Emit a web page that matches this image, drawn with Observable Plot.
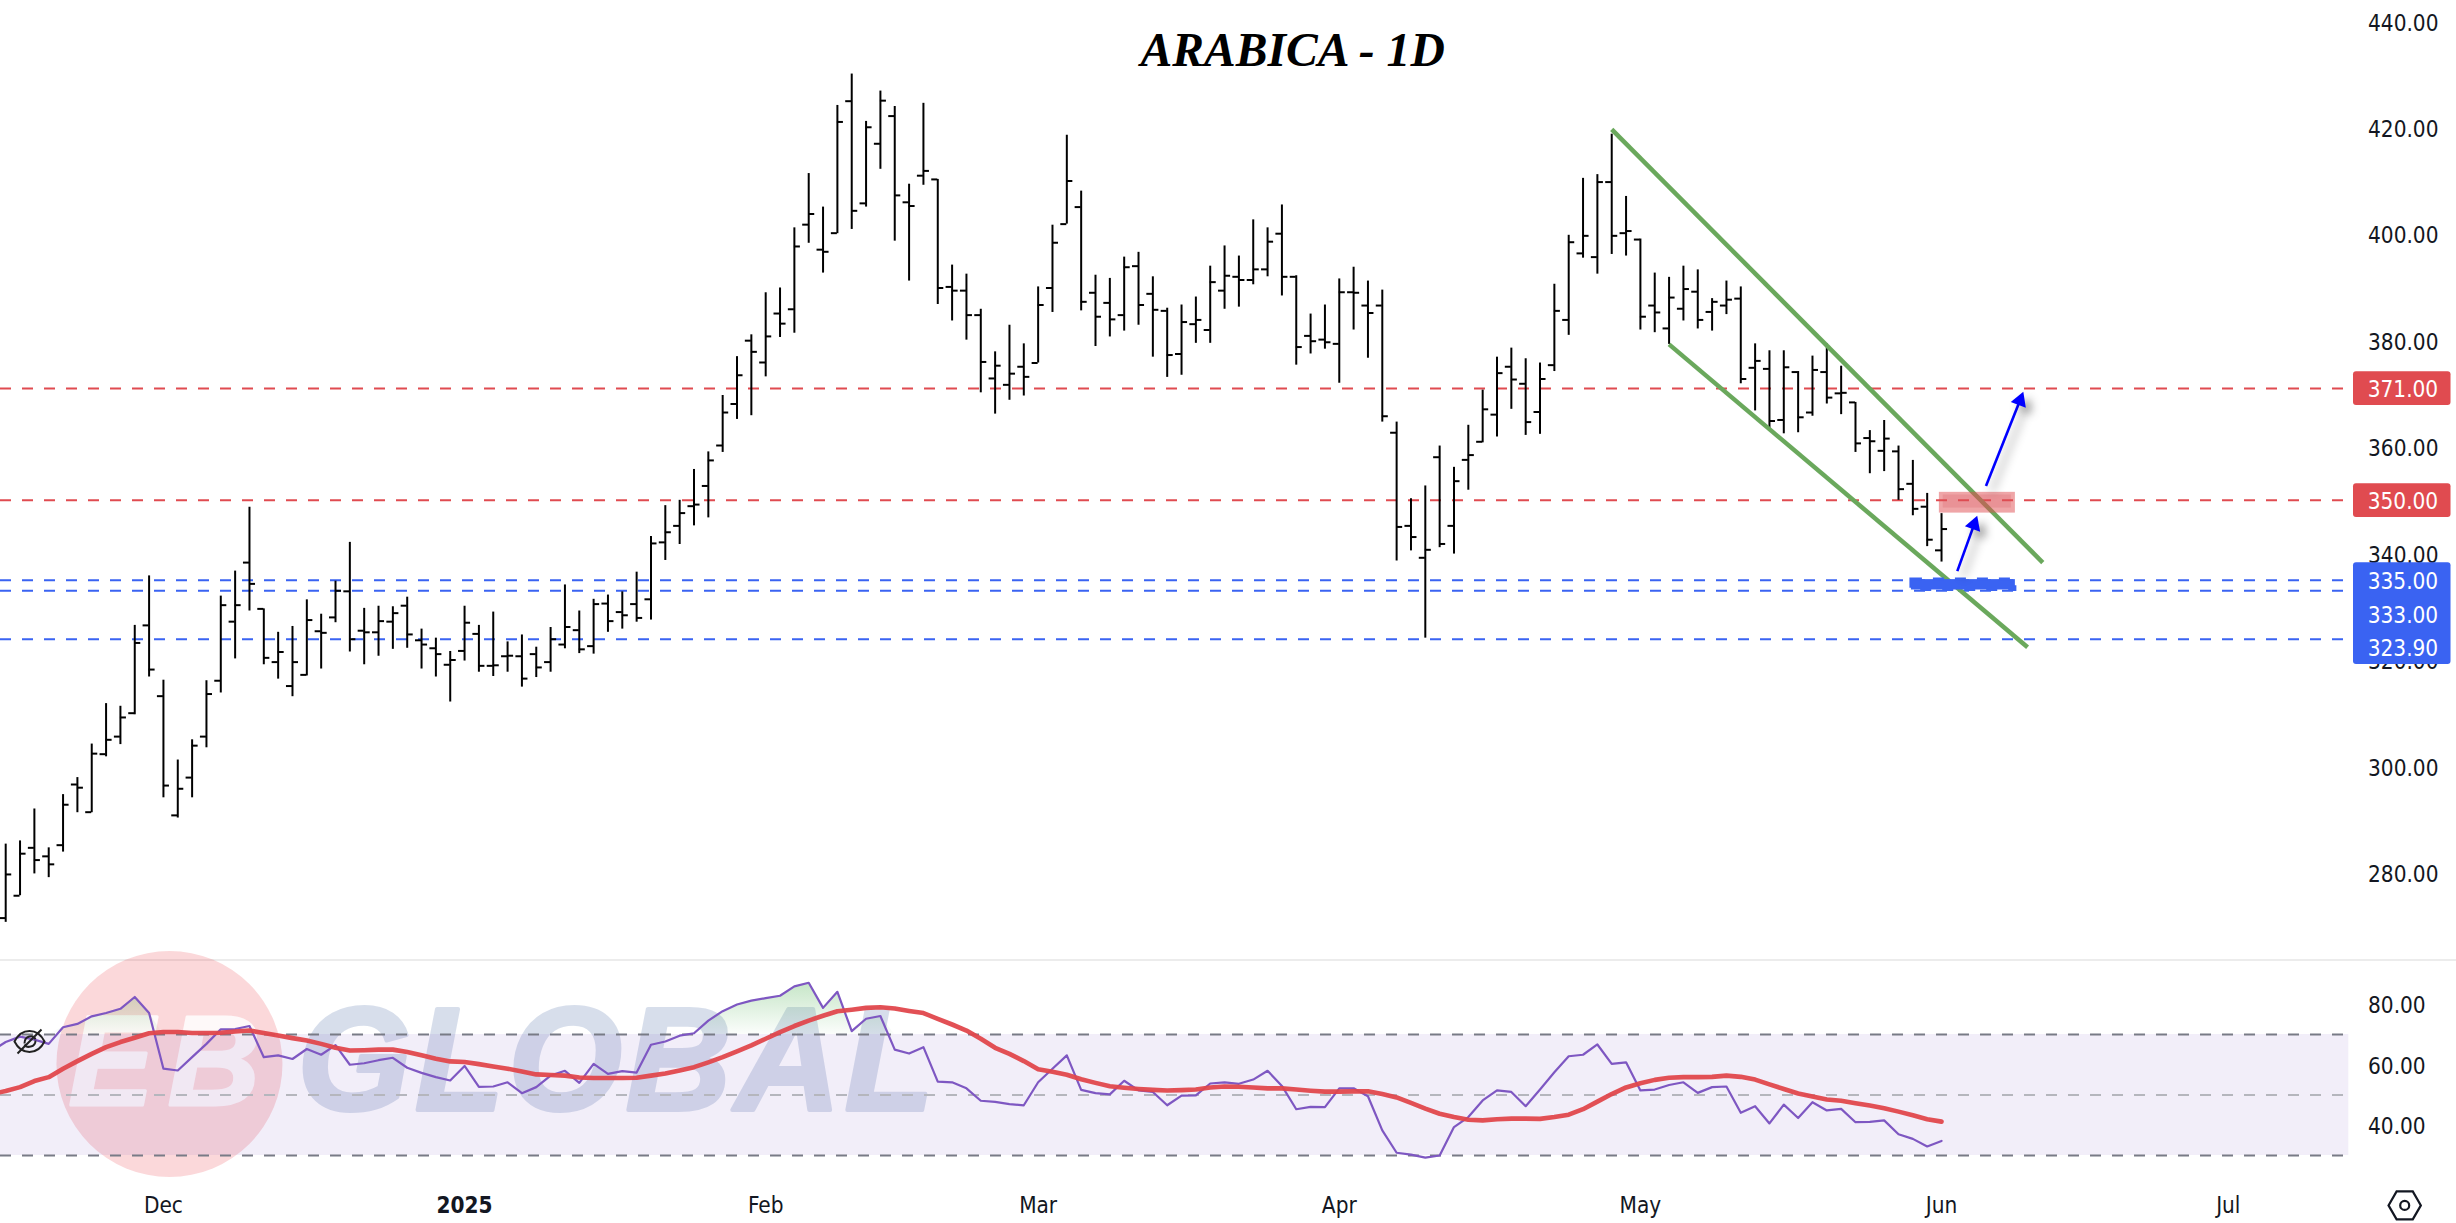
<!DOCTYPE html>
<html>
<head>
<meta charset="utf-8">
<script src="https://cdn.jsdelivr.net/npm/d3@7"></script>
<script src="https://cdn.jsdelivr.net/npm/@observablehq/plot@0.6"></script>
<style>
html,body{margin:0;padding:0;background:#fff;overflow:hidden}
#chart{position:relative;width:2456px;height:1223px}
#chart svg{position:absolute;left:0;background:transparent}
</style>
</head>
<body>
<div id="chart"></div>
<script>
// Daily OHLC, one value per trading bar
const highs = [285.4,286.0,292.0,284.7,294.7,297.9,304.2,311.8,311.3,326.5,335.8,316.2,301.2,305.0,316.1,332.0,336.7,348.7,329.6,325.2,326.3,331.3,328.6,334.8,342.1,329.7,330.1,330.0,331.8,325.8,324.1,321.6,330.1,326.5,329.0,323.4,324.7,322.4,326.1,334.1,329.2,331.4,332.2,332.8,336.5,343.2,349.0,350.0,355.8,359.1,369.7,377.0,381.1,389.0,389.9,401.2,411.4,
405.1,424.2,430.1,421.2,426.9,424.0,409.4,424.6,410.3,394.2,392.5,385.9,377.9,382.9,379.4,390.1,401.7,418.6,408.1,392.3,391.7,395.7,396.6,392.0,386.1,386.7,388.2,394.0,397.8,395.9,402.7,401.2,405.5,392.2,385.0,386.7,391.6,393.8,391.2,389.5,364.7,350.3,352.7,360.2,356.2,364.1,370.7,376.9,378.6,376.6,375.8,
390.6,399.8,410.5,411.2,418.8,407.1,399.1,392.7,391.9,394.0,393.3,387.9,391.2,390.1,379.4,378.1,378.1,374.2,377.1,379.4,375.2,368.4,363.1,365.0,360.2,357.5,351.3,347.5];
const lows = [270.7,275.7,279.8,279.1,283.9,291.3,291.3,301.8,304.1,309.7,316.8,294.1,290.3,294.1,303.5,313.8,320.2,329.2,319.1,316.4,313.1,317.0,318.3,327.0,321.5,319.1,320.7,322.0,322.2,318.3,316.8,312.1,319.8,317.7,316.9,317.7,314.9,316.7,317.7,322.1,321.2,321.1,325.2,325.8,327.1,327.5,338.7,341.7,345.2,346.7,359.0,365.2,365.9,373.2,380.6,381.4,398.3,
392.7,400.1,400.9,405.1,412.2,398.7,391.2,409.2,386.8,383.7,380.1,370.2,366.2,368.8,369.6,375.8,385.3,401.9,385.6,378.9,380.7,381.8,382.9,376.9,373.1,373.5,379.5,379.5,385.9,386.3,390.5,392.0,388.4,375.4,377.5,378.4,372.0,382.0,376.7,364.7,338.6,340.5,324.1,341.1,339.9,351.9,360.8,361.9,367.1,362.2,362.4,
374.2,381.0,395.5,392.5,396.2,395.9,382.0,381.5,379.3,383.7,382.2,381.8,384.9,371.9,366.8,363.3,362.5,362.7,365.8,368.1,366.1,359.0,355.0,355.4,350.0,347.1,341.3,338.4];
const opens = [271.5,275.7,284.7,283.1,285.2,296.6,291.4,302.3,305.6,310.0,326.5,313.2,290.8,297.9,305.6,316.1,327.2,338.3,329.6,319.6,315.1,317.2,325.4,328.0,332.9,325.5,325.2,327.2,330.2,323.7,322.2,319.1,321.7,324.9,318.9,320.7,320.7,321.1,319.6,322.9,325.6,322.6,330.6,329.0,330.5,331.4,342.1,345.2,348.9,352.7,360.3,368.1,380.0,375.9,385.1,385.9,401.8,
397.1,400.2,425.0,405.8,417.0,422.2,406.0,411.0,410.3,390.1,389.4,384.8,372.9,371.7,375.1,375.8,389.9,401.9,405.1,389.0,387.1,384.8,394.0,388.8,385.6,377.5,383.1,382.0,389.4,392.0,391.4,393.4,400.1,392.0,380.9,380.2,379.4,389.1,386.6,386.6,362.7,345.2,339.2,358.1,345.2,357.6,361.0,366.1,375.1,371.9,366.6,
375.4,383.9,396.4,395.7,409.8,400.2,399.0,386.6,382.3,386.0,389.2,385.4,386.6,387.9,374.9,374.7,365.1,374.1,366.5,374.1,370.1,368.4,361.7,359.3,359.2,353.1,348.8,340.6];
const closes = [279.7,283.6,282.4,281.6,292.8,296.0,302.4,305.0,309.2,323.2,318.2,296.4,295.8,303.9,313.6,330.3,330.3,334.3,320.4,321.5,319.6,327.5,325.1,333.0,323.9,325.2,327.3,328.8,324.8,322.9,321.1,320.0,327.0,318.9,319.0,320.8,316.5,318.6,323.9,326.2,322.0,330.5,327.3,328.4,327.9,341.9,344.0,347.6,349.2,357.5,366.5,373.5,377.9,380.8,383.2,397.7,403.8,
396.7,421.1,404.4,420.1,425.1,407.3,405.3,411.9,389.9,389.4,384.8,376.0,375.3,373.8,373.2,386.7,398.4,410.0,387.3,384.5,384.0,393.8,386.7,385.8,377.3,383.5,383.9,391.0,392.2,391.4,393.4,398.6,392.0,378.8,379.9,379.7,389.1,389.0,385.2,365.8,345.0,343.1,340.7,341.8,353.6,358.5,367.1,373.9,372.7,364.7,372.8,
385.6,398.5,399.7,409.8,399.7,400.6,384.5,385.3,388.1,389.7,383.9,387.3,387.7,372.8,376.2,364.9,375.0,365.6,374.5,369.3,370.2,360.7,361.1,361.6,352.1,348.4,342.6,344.6];

// RSI and its moving average; the first entry is the bar just left of the frame
const rsiValues = [64.5,67.5,69.3,68.3,66.9,72.4,73.5,76.0,77.1,78.5,82.4,77.1,58.7,58.1,62.5,66.9,71.7,71.8,72.8,62.5,63.1,61.9,65.2,63.3,66.5,60.0,60.5,61.5,62.3,59.0,57.3,55.9,54.8,59.6,52.7,52.8,54.2,50.6,52.6,56.4,58.0,54.0,60.3,57.0,57.9,57.4,66.6,67.7,69.6,70.4,74.6,77.7,79.9,81.2,82.0,82.8,85.9,87.1,78.8,84.1,71.1,75.2,76.1,65.0,63.7,65.8,54.4,54.2,52.2,48.1,47.7,
47.0,46.6,54.2,58.7,63.1,51.7,50.6,50.2,54.7,51.5,51.0,46.6,49.8,49.9,53.8,54.2,53.7,55.1,58.0,53.0,45.3,46.1,46.0,52.2,52.2,49.6,38.3,30.9,30.3,29.3,30.0,39.4,42.7,48.2,51.5,51.0,46.3,51.8,57.5,62.8,63.3,66.7,60.3,60.8,51.5,51.8,53.3,54.2,50.7,52.6,52.8,44.1,46.3,40.6,46.8,42.4,47.6,44.9,45.4,41.0,41.1,41.6,37.0,35.5,33.0,34.8];
const rsiAverage = [50.3,51.3,52.6,54.6,55.9,58.7,61.2,63.6,65.8,67.5,68.9,70.4,70.8,70.8,70.5,70.5,70.6,71.0,71.3,70.5,69.7,68.8,68.0,66.9,65.6,64.7,64.8,65.0,65.0,64.2,63.1,62.0,61.1,60.9,60.2,59.4,58.7,57.8,56.8,56.6,56.4,55.8,55.6,55.6,55.6,55.7,56.4,57.1,58.1,59.2,60.8,62.5,64.4,66.4,68.6,70.8,72.8,74.6,76.2,77.7,78.2,78.8,79.0,78.6,77.8,77.1,75.2,73.3,71.3,68.6,65.6,
63.6,61.2,58.5,57.7,56.7,55.2,54.0,52.9,52.4,52.0,51.7,51.5,51.6,51.8,52.5,52.8,52.7,52.5,52.2,52.2,51.8,51.4,51.1,51.1,51.2,51.2,50.3,49.2,47.4,45.5,43.8,42.7,41.8,41.6,42.0,42.2,42.2,42.1,42.7,43.5,45.3,47.8,50.3,52.5,53.9,55.0,55.7,55.9,55.9,56.0,56.4,56.0,55.1,53.5,52.0,50.5,49.5,48.5,48.1,47.3,46.5,45.6,44.5,43.3,42.0,41.2];

// Axis ticks
const priceTicks = [280,300,320,340,360,380,400,420,440];
const rsiTicks = [40,60,80];
const monthTickBars = [11,53,72,93,114,135,155];
const monthTickNames = ["Dec","Feb","Mar","Apr","May","Jun","Jul"];
const yearTickBars = [32];
const yearTickNames = ["2025"];

// Drawn levels and tools
const redLevels = [371,350];
const blueLevels = [335,333,323.9];
const channelLines = [[112,419.7,142.06,338.3],[116,379.3,141,322.4]];
const arrowSegments = [[136.1,336.7,137.27,345.43,19.6],[138.1,352.7,140.47,368.75,21]];
const priceTags = [["371.00",371,374.17,367.84,"#e04b50"],["350.00",350,353.12,346.79,"#e04b50"]];
const blueTag = [338.27,319.15,"#3a63f2"];
const blueTagRows = [["335.00",334.9],["333.00",328.5],["323.90",322.35]];
const rsiLevels = [[70,"#787b86"],[50,"#b5b6bd"],[30,"#787b86"]];

const FONT = '"DejaVu Sans Condensed","DejaVu Sans",sans-serif';
const bars = highs.map((h,i)=>({i,high:h,low:lows[i],open:opens[i],close:closes[i]}));
const rsiRows = rsiValues.map((v,k)=>({i:k-1,rsi:v,avg:rsiAverage[k]}));
const toFixed2 = d=>d.toFixed(2);
const xScale = {domain:[-0.3626,163.66]};
const TICK = 0.42;
const DASH = "11,11";
const SHADOW = "drop-shadow(6px 6px 5px rgba(0,0,0,.4))";

const eyeSymbol = {draw(c,s){
  c.moveTo(-15,0);c.bezierCurveTo(-8,-14,8,-14,15,0);c.bezierCurveTo(8,14,-8,14,-15,0);c.closePath();
  c.moveTo(-12,12);c.lineTo(12,-12);
  c.moveTo(-5,2);c.bezierCurveTo(-5,-6,4,-7,6,-2);
  c.moveTo(6,-1);c.bezierCurveTo(6,6,-3,7,-5,3);
}};

const pricePlot = Plot.plot({
  width:2456,height:960,marginLeft:0,marginRight:104,marginTop:0,marginBottom:0,
  style:{fontFamily:FONT,fontStretch:"condensed",fontSize:"22.4px",color:"#131722",background:"transparent"},
  x:{...xScale,axis:null},
  y:{domain:[263.53,443.92],axis:null},
  marks:[
    Plot.axisY({anchor:"right",ticks:priceTicks,tickSize:0,tickPadding:15.5,tickFormat:toFixed2,label:null,dy:2}),
    Plot.ruleY(redLevels,{stroke:"#e04b50",strokeWidth:2,strokeDasharray:DASH}),
    Plot.ruleY(blueLevels,{stroke:"#3a63f2",strokeWidth:2,strokeDasharray:DASH}),
    Plot.ruleX(bars,{x:"i",y1:"low",y2:"high",stroke:"#000",strokeWidth:2}),
    Plot.ruleY(bars,{y:"open",x1:d=>d.i-TICK,x2:"i",stroke:"#000",strokeWidth:2}),
    Plot.ruleY(bars,{y:"close",x1:"i",x2:d=>d.i+TICK,stroke:"#000",strokeWidth:2}),
    Plot.link(channelLines,{x1:d=>d[0],y1:d=>d[1],x2:d=>d[2],y2:d=>d[3],stroke:"#6aa85c",strokeWidth:4.5}),
    Plot.rect([0],{x1:134.85,x2:140.15,y1:347.6,y2:351.5,fill:"#e04b50",fillOpacity:0.5}),
    Plot.rect([0],{x1:135.12,x2:139.87,y1:348.55,y2:351.0,fill:"#d8505a",fillOpacity:0.22}),
    Plot.rect([0],{x1:132.9,x2:140.15,y1:333.15,y2:335.1,fill:"#3a63f2",stroke:"#3a63f2",strokeWidth:3,strokeDasharray:DASH}),
    Plot.link(arrowSegments,{x1:d=>d[0],y1:d=>d[1],x2:d=>d[2],y2:d=>d[3],stroke:"#0000ff",strokeWidth:2.6,imageFilter:SHADOW}),
    Plot.dot(arrowSegments,{x:d=>d[2],y:d=>d[3],rotate:d=>d[4],symbol:"triangle",r:6,fill:"#0000ff",stroke:"none",imageFilter:SHADOW}),
    Plot.rect(priceTags,{x1:163.73,x2:170.53,y1:d=>d[2],y2:d=>d[3],fill:d=>d[4],rx:3}),
    Plot.rect([blueTag],{x1:163.73,x2:170.53,y1:d=>d[0],y2:d=>d[1],fill:d=>d[2],rx:3}),
    Plot.text(priceTags,{x:164.72,y:d=>d[1],text:d=>d[0],fill:"#fff",textAnchor:"start",dy:1.5}),
    Plot.text(blueTagRows,{x:164.72,y:d=>d[1],text:d=>d[0],fill:"#fff",textAnchor:"start",dy:1.5}),
    Plot.text(["ARABICA - 1D"],{x:89.75,y:434.5,fontFamily:"Liberation Serif",fontWeight:"bold",fontStyle:"italic",fontSize:47.6,fill:"#000"})
  ]
});
pricePlot.style.top="0px";

const logoMark = Plot.text(["EB"],{x:11.55,y:60.3,fontFamily:"Liberation Sans",fontWeight:"bold",fontStyle:"italic",fontSize:128,fill:"#fff",stroke:"#fff",strokeWidth:3,opacity:0.85});
const wordMark = Plot.text(["GLOBAL"],{x:20.35,y:60.4,textAnchor:"start",fontFamily:"Liberation Sans",fontWeight:"bold",fontStyle:"italic",fontSize:146,fill:"#3c5f9e",stroke:"#3c5f9e",strokeWidth:4,opacity:0.2});

const rsiPlot = Plot.plot({
  width:2456,height:283,marginLeft:0,marginRight:104,marginTop:0,marginBottom:35,
  style:{fontFamily:FONT,fontStretch:"condensed",fontSize:"22.4px",color:"#131722",background:"transparent"},
  x:{...xScale,axis:null},
  y:{domain:[19.09,101.07],axis:null},
  marks:[
    ()=>{const d=d3.create("svg:defs");const g=d.append("linearGradient").attr("id","obGrad").attr("gradientUnits","userSpaceOnUse").attr("x1",0).attr("x2",0).attr("y1",42).attr("y2",94);
      g.append("stop").attr("offset",0).attr("stop-color","#4caf50").attr("stop-opacity",0.32);
      g.append("stop").attr("offset",1).attr("stop-color","#4caf50").attr("stop-opacity",0.02);return d.node();},
    Plot.ruleY([94.6],{x1:-1,x2:171.5,stroke:"#ececec",strokeWidth:2}),
    Plot.dot([0],{x:11.42,y:60.25,r:113,fill:"#eb3c46",fillOpacity:0.2,stroke:"none"}),
    logoMark,
    wordMark,
    Plot.rect([0],{x1:-1,x2:163.4,y1:30,y2:70,fill:"#7e57c2",fillOpacity:0.1}),
    Plot.areaY(rsiRows,{x:"i",y1:70,y2:d=>Math.max(d.rsi,70),fill:"url(#obGrad)"}),
    Plot.ruleY(rsiLevels,{y:d=>d[0],x1:-0.3626,x2:163.4,stroke:d=>d[1],strokeWidth:2,strokeDasharray:DASH}),
    Plot.line(rsiRows,{x:"i",y:"rsi",stroke:"#7e57c2",strokeWidth:2.2}),
    Plot.line(rsiRows,{x:"i",y:"avg",stroke:"#e0474c",strokeWidth:4.6,strokeOpacity:0.95}),
    Plot.dot([0],{x:1.66,y:67.7,symbol:eyeSymbol,stroke:"#222",strokeWidth:2,fill:"none"}),
    Plot.axisY({anchor:"right",ticks:rsiTicks,tickSize:0,tickPadding:15.5,tickFormat:toFixed2,label:null,dy:2}),
    Plot.axisX({anchor:"bottom",ticks:monthTickBars,tickSize:0,tickPadding:9,tickFormat:i=>monthTickNames[monthTickBars.indexOf(i)],label:null}),
    Plot.axisX({anchor:"bottom",ticks:yearTickBars,tickSize:0,tickPadding:9,tickFormat:i=>yearTickNames[yearTickBars.indexOf(i)],fontWeight:"bold",label:null}),
    Plot.dot([0],{x:167.3,y:13.5,symbol:"hexagon",r:14,rotate:30,stroke:"#131722",strokeWidth:2.2,fill:"none"}),
    Plot.dot([0],{x:167.3,y:13.5,r:4.5,stroke:"#131722",strokeWidth:2.2,fill:"none"})
  ]
});
rsiPlot.style.top="940px";
// Letter spacing for the two watermark words
rsiPlot.querySelectorAll("text").forEach(t=>{
  if(t.textContent==="GLOBAL") t.style.letterSpacing="4px";
  if(t.textContent==="EB") t.style.letterSpacing="14px";
});

const root=document.getElementById("chart");
root.appendChild(pricePlot);
root.appendChild(rsiPlot);
</script>
</body>
</html>
